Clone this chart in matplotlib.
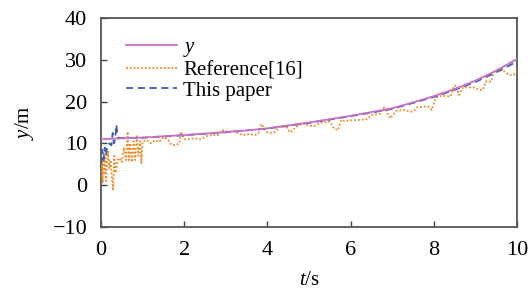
import matplotlib
matplotlib.use("Agg")
import matplotlib.pyplot as plt

plt.rcParams["font.family"] = ["Liberation Serif", "DejaVu Serif"]
plt.rcParams["mathtext.fontset"] = "custom"
plt.rcParams["mathtext.it"] = "Liberation Serif:italic"
plt.rcParams["mathtext.rm"] = "Liberation Serif"

# true trajectory y
t_true = [0.0, 0.5, 1.0, 1.5, 2.0, 2.5, 3.0, 3.5, 4.0, 4.5, 5.0,
          5.5, 6.0, 6.5, 7.0, 7.5, 8.0, 8.5, 9.0, 9.5, 10.0]
y_true = [11.0, 11.2, 11.4, 11.7, 12.0, 12.35, 12.7, 13.1, 13.6, 14.3, 15.0,
          15.8, 16.6, 17.5, 18.4, 19.8, 21.3, 23.0, 25.0, 27.4, 30.2]

# Reference[16] estimate
t_ref = [0.00, 0.02, 0.04, 0.06, 0.08, 0.10, 0.12, 0.14, 0.17, 0.20, 0.23, 0.26,
         0.29, 0.32, 0.35, 0.40, 0.45, 0.50, 0.55, 0.60, 0.64, 0.67, 0.70, 0.74,
         0.78, 0.82, 0.86, 0.90, 0.94, 0.97, 1.00, 1.10, 1.20, 1.30, 1.40, 1.50,
         1.60, 1.70, 1.80, 1.88, 1.92, 2.00, 2.10, 2.25, 2.40, 2.55, 2.70, 2.82,
         2.90, 3.05, 3.20, 3.30, 3.40, 3.55, 3.70, 3.78, 3.85, 4.00, 4.15, 4.30,
         4.45, 4.55, 4.70, 4.85, 5.00, 5.15, 5.30, 5.50, 5.60, 5.70, 5.77, 5.85,
         6.00, 6.20, 6.40, 6.50, 6.70, 6.80, 6.95, 7.10, 7.28, 7.40, 7.50, 7.60,
         7.75, 7.88, 7.95, 8.05, 8.20, 8.40, 8.48, 8.55, 8.60, 8.70, 8.95, 9.10,
         9.18, 9.25, 9.38, 9.45, 9.55, 9.70, 9.80, 9.92, 10.0]
y_ref = [2.0, 6.0, 0.5, 8.0, 3.0, 7.0, 1.0, 5.0, 8.0, 4.0, 6.0, 2.0,
         -1.0, 7.0, 3.0, 6.0, 6.5, 5.5, 9.0, 6.0, 12.8, 6.0, 10.0, 5.5,
         10.5, 6.0, 12.0, 7.0, 10.5, 5.3, 10.5, 10.8, 10.0, 10.8, 10.4, 11.5,
         11.0, 9.6, 9.6, 10.0, 12.8, 11.0, 11.0, 11.2, 11.0, 11.8, 12.0, 12.0,
         13.2, 12.8, 13.0, 12.4, 12.0, 12.2, 12.0, 12.4, 14.6, 12.6, 12.5, 14.0,
         14.0, 12.6, 14.0, 14.8, 14.2, 14.2, 15.0, 15.2, 13.5, 13.2, 15.6, 15.4,
         15.5, 15.6, 15.8, 16.8, 17.0, 18.6, 16.0, 17.8, 18.0, 17.6, 17.6, 18.6,
         18.8, 18.8, 18.0, 21.0, 21.4, 21.2, 23.8, 23.8, 21.6, 23.4, 23.4, 22.8,
         22.8, 24.8, 24.8, 27.4, 27.6, 27.2, 26.4, 26.4, 27.2]

# this paper estimate
t_ours = [0.0, 0.03, 0.06, 0.09, 0.12, 0.15, 0.20, 0.25, 0.28, 0.31, 0.34, 0.37,
          0.40, 0.45, 1.0, 2.0, 3.0, 4.0, 5.0, 6.0, 7.0, 8.0, 8.5, 9.0, 9.5, 10.0]
y_ours = [5.0, 8.5, 6.0, 9.0, 7.0, 9.5, 10.0, 9.5, 12.5, 10.0, 11.0, 14.5,
          11.5, 11.3, 11.35, 11.95, 12.65, 13.55, 14.9, 16.5, 18.25, 21.1, 22.8, 24.7, 27.0, 29.6]

fig = plt.figure(figsize=(5.3, 2.92), dpi=100)
ax = fig.add_axes([0.1906, 0.2226, 0.9755 - 0.1906, 0.9384 - 0.2226])

ax.plot(t_true, y_true, color="#c870c4", lw=1.3, label="$y$", zorder=4)
ax.plot(t_ref, y_ref, color="#ee8a28", lw=1.3, ls=(0, (1, 1.1)), label="Reference[16]", zorder=3)
ax.plot(t_ours, y_ours, color="#3e5eb0", lw=1.3, ls=(0, (4, 2.5)), label="This paper", zorder=3.5)

ax.set_xlim(0, 10)
ax.set_ylim(-10, 40)
ax.set_xticks([0, 2, 4, 6, 8, 10])
ax.set_yticks([-10, 0, 10, 20, 30, 40])
ax.tick_params(direction="in", length=4, width=1, labelsize=16, pad=10, color="#444444")
for s in ax.spines.values():
    s.set_color("#555555")
    s.set_linewidth(1.3)

ax.set_xlabel("$t$/s", fontsize=15, labelpad=8)
ax.set_ylabel("$y$/m", fontsize=15, labelpad=12)

ax.legend(loc="upper left", bbox_to_anchor=(0.06, 0.905), frameon=False, fontsize=15,
          handlelength=2.45, handletextpad=0.3, labelspacing=0.05, borderpad=0,
          borderaxespad=0)

fig.savefig("out.png", dpi=100)
